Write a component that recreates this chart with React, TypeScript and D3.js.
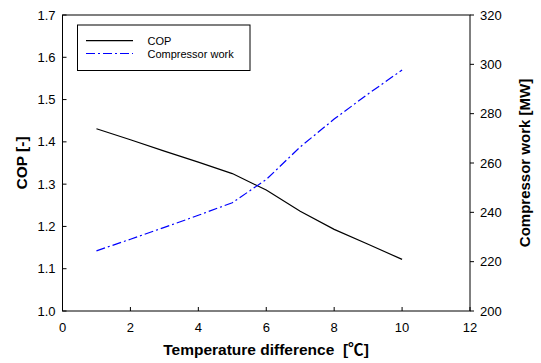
import React from "react";
import * as d3 from "d3";

const tempDiff = [1, 2, 3, 4, 5, 6, 7, 8, 9, 10];
const copValues = [1.431, 1.405, 1.378, 1.352, 1.325, 1.286, 1.236, 1.193, 1.158, 1.122];
const workValues = [224.4, 229.1, 233.9, 238.8, 243.9, 253.3, 266.5, 277.8, 288.0, 297.7];
const xTicks = [0, 2, 4, 6, 8, 10, 12];
const copTicks = [1.0, 1.1, 1.2, 1.3, 1.4, 1.5, 1.6, 1.7];
const workTicks = [200, 220, 240, 260, 280, 300, 320];
const legendLabels = ["COP", "Compressor work"];

export default function App() {
  const W = 541, H = 363;
  const left = 62.5, right = 470, top = 15, bottom = 311;
  const x = d3.scaleLinear().domain([0, 12]).range([left, right]);
  const yL = d3.scaleLinear().domain([1.0, 1.7]).range([bottom, top]);
  const yR = d3.scaleLinear().domain([200, 320]).range([bottom, top]);
  const copLine = d3.line<number>().x((_, i) => x(tempDiff[i])).y((d) => yL(d));
  const workLine = d3.line<number>().x((_, i) => x(tempDiff[i])).y((d) => yR(d));
  const font = "Liberation Sans, Arial, sans-serif";
  return (
    <svg width={W} height={H} style={{ position: "absolute", left: 0, top: 0 }} fontFamily={font}>
      <rect x={0} y={0} width={W} height={H} fill="#fff" />
      <path d={copLine(copValues) || ""} fill="none" stroke="#000" strokeWidth={1.2} />
      <path d={workLine(workValues) || ""} fill="none" stroke="#0000ff" strokeWidth={1.2} strokeDasharray="9,3,2,3" />
      <rect x={left} y={top} width={right - left} height={bottom - top} fill="none" stroke="#000" strokeWidth={1} />
      {xTicks.map((t) => (
        <g key={"x" + t}>
          <line x1={x(t)} x2={x(t)} y1={bottom} y2={bottom - 4} stroke="#000" />
          <text x={x(t)} y={bottom + 21} fontSize={13} textAnchor="middle" fill="#000">{t}</text>
        </g>
      ))}
      {copTicks.map((t) => (
        <g key={"l" + t}>
          <line x1={left} x2={left + 4} y1={yL(t)} y2={yL(t)} stroke="#000" />
          <text x={left - 7} y={yL(t) + 4.5} fontSize={13} textAnchor="end" fill="#000">{t.toFixed(1)}</text>
        </g>
      ))}
      {workTicks.map((t) => (
        <g key={"r" + t}>
          <line x1={right} x2={right + 4} y1={yR(t)} y2={yR(t)} stroke="#000" />
          <text x={right + 10} y={yR(t) + 4.5} fontSize={13} textAnchor="start" fill="#000">{t}</text>
        </g>
      ))}
      <text x={266} y={355} fontSize={15.5} fontWeight="bold" textAnchor="middle" fill="#000">
        {"Temperature difference\u00a0\u00a0["}
        <tspan fontFamily="Noto Sans CJK KR">℃</tspan>
        {"]"}
      </text>
      <text transform={`translate(27,${(top + bottom) / 2}) rotate(-90)`} fontSize={15.5} fontWeight="bold" textAnchor="middle" fill="#000">
        COP [-]
      </text>
      <text transform={`translate(530,${(top + bottom) / 2}) rotate(-90)`} fontSize={15} fontWeight="bold" textAnchor="middle" fill="#000">
        Compressor work [MW]
      </text>
      <rect x={77.5} y={25} width={172.5} height={45.5} fill="#fff" stroke="#000" strokeWidth={1} />
      <line x1={86} x2={133} y1={40.7} y2={40.7} stroke="#000" strokeWidth={1.2} />
      <line x1={86} x2={133} y1={53.5} y2={53.5} stroke="#0000ff" strokeWidth={1.2} strokeDasharray="9,3,2,3" />
      <text x={147.5} y={44.5} fontSize={11} fill="#000">{legendLabels[0]}</text>
      <text x={147.5} y={57.5} fontSize={11} fill="#000">{legendLabels[1]}</text>
    </svg>
  );
}
